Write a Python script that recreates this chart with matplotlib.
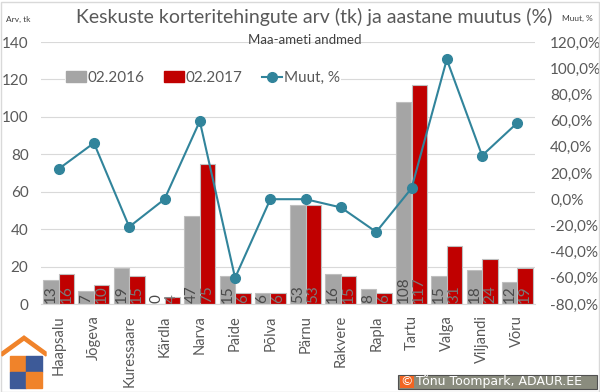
import numpy as np
import matplotlib
matplotlib.use("Agg")
import matplotlib.pyplot as plt
from matplotlib.patches import Rectangle, Polygon
from matplotlib.lines import Line2D
from matplotlib.ticker import FuncFormatter

plt.rcParams['font.family'] = ['Lato', 'DejaVu Sans']

# data
cities = ["Haapsalu", "Jõgeva", "Kuressaare", "Kärdla", "Narva", "Paide", "Põlva",
          "Pärnu", "Rakvere", "Rapla", "Tartu", "Valga", "Viljandi", "Võru"]
y2016 = [13, 7, 19, 0, 47, 15, 6, 53, 16, 8, 108, 15, 18, 12]
y2017 = [16, 10, 15, 4, 75, 6, 6, 53, 15, 6, 117, 31, 24, 19]
change = [23.1, 42.9, -21.1, 0.0, 59.6, -60.0, 0.0, 0.0, -6.3, -25.0, 8.3, 106.7, 33.3, 58.3]

TXT = "#595959"
GRAY = "#A5A5A5"
RED = "#C00000"
TEAL = "#31849B"

fig = plt.figure(figsize=(6, 3.92), dpi=100)
W, H = 600, 392
ax = fig.add_axes([41 / W, (H - 304) / H, (535 - 41) / W, (304 - 42) / H])

x = np.arange(len(cities))
bw = 0.44
ax.bar(x - bw / 2, y2016, bw, color=GRAY, edgecolor="#BFBFBF", linewidth=0.8, zorder=2)
ax.bar(x + bw / 2, y2017, bw, color=RED, edgecolor="#BFBFBF", linewidth=0.8, zorder=2)

ax.set_xlim(-0.5, len(cities) - 0.5)
ax.set_ylim(0, 140)
ax.set_yticks(range(0, 141, 20))
ax.grid(axis="y", color="#D9D9D9", linewidth=0.8, zorder=0)
ax.set_axisbelow(True)
for s in ("top", "right", "left"):
    ax.spines[s].set_visible(False)
ax.spines["bottom"].set_color("#D9D9D9")
ax.tick_params(axis="both", length=0, colors=TXT, labelsize=11)
ax.tick_params(axis="y", pad=9)
ax.set_xticks(x)
ax.set_xticklabels(cities, rotation=90, fontsize=10.5, color=TXT)
ax.tick_params(axis="x", pad=8)

ax2 = ax.twinx()
ax2.set_ylim(-80, 120)
ax2.set_yticks(range(-80, 121, 20))
ax2.yaxis.set_major_formatter(FuncFormatter(lambda v, p: f"{v:.1f}%".replace(".", ",")))
ax2.tick_params(axis="y", length=0, colors=TXT, labelsize=11, pad=11)
for s in ax2.spines.values():
    s.set_visible(False)
ax2.plot(x, change, color=TEAL, linewidth=1.5, marker="o", markersize=7, zorder=4)

# bar value labels, drawn above the line axes
for xs, vals, col in ((x - bw / 2, y2016, "#4A4A4A"), (x + bw / 2, y2017, "#7A7A7A")):
    for xi, v in zip(xs, vals):
        ax2.text(xi, -79, str(v), rotation=90, ha="center", va="bottom",
                 fontsize=11, color=col, zorder=1)

handles = [Rectangle((0, 0), 1, 1, color=GRAY), Rectangle((0, 0), 1, 1, color=RED),
           Line2D([], [], color=TEAL, marker="o", markersize=7, linewidth=1.5)]
leg = ax2.legend(handles, ["02.2016", "02.2017", "Muut, %"], loc="center",
                 bbox_to_anchor=((203 - 41) / 494, (304 - 78) / 262), ncol=3, frameon=True,
                 fontsize=11, handlelength=1.3, handletextpad=0.1, columnspacing=1.3,
                 borderpad=0.1)
leg.get_frame().set_facecolor("white")
leg.get_frame().set_edgecolor("none")
leg.get_frame().set_alpha(1)
for t in leg.get_texts():
    t.set_color(TXT)

fig.text(314 / W, 1 - 17 / H, "Keskuste korteritehingute arv (tk) ja aastane muutus (%)",
         ha="center", va="center", fontsize=14, color=TXT)
fig.text(305 / W, 1 - 40 / H, "Maa-ameti andmed", ha="center", va="center",
         fontsize=9.5, color="#404040")
fig.text(18 / W, 1 - 19 / H, "Arv, tk", ha="center", va="center", fontsize=6, color="#404040")
fig.text(577 / W, 1 - 18 / H, "Muut, %", ha="center", va="center", fontsize=6, color="#404040")

# border
fig.patches.append(Rectangle((0.5 / W, 0.5 / H), 1 - 2 / W, 1 - 2 / H, transform=fig.transFigure,
                             fill=False, edgecolor="#D9D9D9", linewidth=1))

# logo
def px(xp, yp):
    return (xp / W, 1 - yp / H)

fig.patches.append(Polygon([px(2, 352), px(24, 336), px(46, 352), px(46, 356),
                            px(24, 340), px(2, 356)], closed=True,
                           transform=fig.transFigure, color="#F0832A"))
logo_cells = [(10, 356, "#F0832A"), (26, 356, "#3D5A98"), (10, 372, "#3D5A98"), (26, 372, "#F0832A")]
for lx, ly, c in logo_cells:
    fig.patches.append(Rectangle(px(lx, ly + 16), 16 / W, 16 / H, transform=fig.transFigure,
                                 color=c))

# copyright box
fig.patches.append(Rectangle(px(398, 389), 199 / W, 14 / H, transform=fig.transFigure,
                             facecolor="#8A8C7E", edgecolor="#505050", linewidth=0.8))
fig.patches.append(Rectangle(px(400, 388), 14 / W, 12 / H, transform=fig.transFigure,
                             facecolor="#F26522", edgecolor="none"))
fig.text(407 / W, 1 - 382 / H, "©", ha="center", va="center", fontsize=9, color="white",
         family=["DejaVu Sans"])
fig.text(416 / W, 1 - 382 / H, "Tõnu Toompark, ADAUR.EE", ha="left", va="center",
         fontsize=9, color="white", family=["DejaVu Sans"])

fig.savefig("out.png", dpi=100)
